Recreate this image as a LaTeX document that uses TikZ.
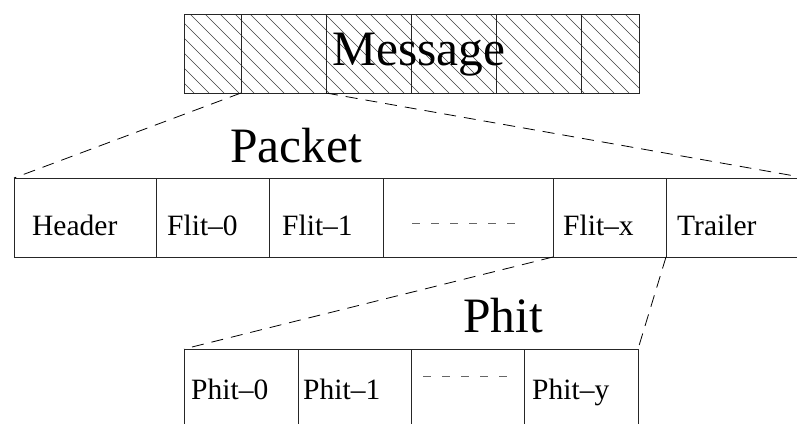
\documentclass[tikz,border=0pt]{standalone}
\usepackage{fontspec}
\setmainfont{Liberation Serif}
\begin{document}
\begin{tikzpicture}[x=1pt,y=-1pt,
  cell/.style={draw=black!85, line width=0.9pt, anchor=north west, inner sep=0pt, outer sep=0pt},
  lbl/.style={anchor=base west, inner sep=0pt, font=\fontsize{29.5}{30}\selectfont},
  big/.style={anchor=base west, inner sep=0pt, font=\fontsize{49.5}{50}\selectfont},
  conn/.style={line width=0.8pt, dash pattern=on 12pt off 8pt},
  gap/.style={draw=black!60, line width=0.8pt, dash pattern=on 8pt off 11pt}]
\useasboundingbox (0,0) rectangle (797,423);
% hatching of the message
\begin{scope}
  \clip (184,14) rectangle (639,93);
  \foreach \i in {0,...,37} \draw[line width=0.6pt, black!75] (100+\i*15,14) -- ++(79,79);
\end{scope}
% message cells
\node[cell, minimum width=57pt, minimum height=79pt] (m1) at (184,14) {};
\node[cell, minimum width=85pt, minimum height=79pt] (m2) at (241,14) {};
\node[cell, minimum width=85pt, minimum height=79pt] (m3) at (326,14) {};
\node[cell, minimum width=85pt, minimum height=79pt] (m4) at (411,14) {};
\node[cell, minimum width=85pt, minimum height=79pt] (m5) at (496,14) {};
\node[cell, minimum width=58pt, minimum height=79pt] (m6) at (581,14) {};
\node[big] (tmsg) at (332,65) {Message};
% packet
\node[big] (tpk) at (230,162) {Packet};
\node[cell, minimum width=142pt, minimum height=79pt] (hdr) at (14,178) {};
\node[cell, minimum width=113pt, minimum height=79pt] (f0) at (156,178) {};
\node[cell, minimum width=114pt, minimum height=79pt] (f1) at (269,178) {};
\node[cell, minimum width=170pt, minimum height=79pt] (fd) at (383,178) {};
\node[cell, minimum width=113pt, minimum height=79pt] (fx) at (553,178) {};
\node[cell, minimum width=140pt, minimum height=79pt] (tr) at (666,178) {};
\node[lbl] (thdr) at (32,235) {Header};
\node[lbl] (tf0) at (167,235) {Flit--0};
\node[lbl] (tf1) at (282,235) {Flit--1};
\draw[gap] (412,223) -- (515,223);
\node[lbl] (tfx) at (563,235) {Flit--x};
\node[lbl] (ttr) at (677,235) {Trailer};
% phit
\node[big] (tph) at (463,332) {Phit};
\node[cell, minimum width=114pt, minimum height=100pt] (p0) at (184,349) {};
\node[cell, minimum width=113pt, minimum height=100pt] (p1) at (298,349) {};
\node[cell, minimum width=113pt, minimum height=100pt] (pd) at (411,349) {};
\node[cell, minimum width=114pt, minimum height=100pt] (py) at (524,349) {};
\node[lbl] (tp0) at (191,399) {Phit--0};
\node[lbl] (tp1) at (303,399) {Phit--1};
\draw[gap] (423,376) -- (507,376);
\node[lbl] (tpy) at (532,399) {Phit--y};
% connectors
\draw[conn] (m2.south west) -- (hdr.north west);
\draw[conn] (m3.south west) -- (tr.north east);
\draw[conn] (fx.south west) -- (p0.north west);
\draw[conn] (tr.south west) -- (py.north east);
\end{tikzpicture}
\end{document}
